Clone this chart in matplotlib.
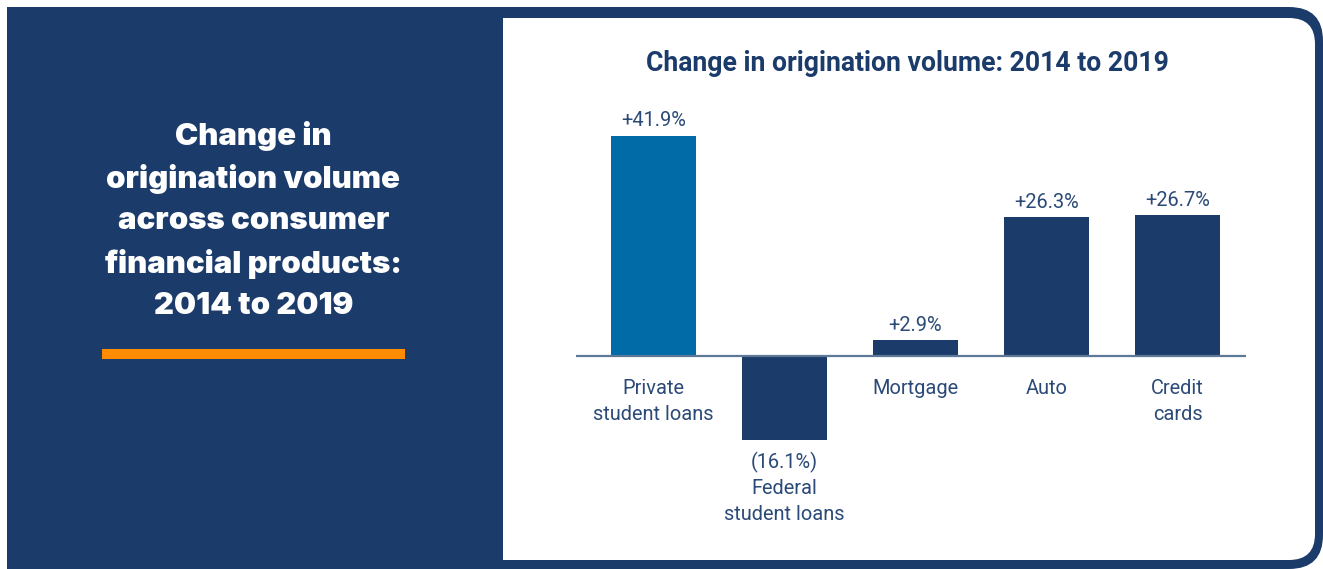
import matplotlib
matplotlib.use("Agg")
import matplotlib.pyplot as plt
from matplotlib.patches import FancyBboxPatch, Rectangle

# Data
categories = ["Private\nstudent loans", "Federal\nstudent loans", "Mortgage", "Auto", "Credit\ncards"]
changes = [41.9, -16.1, 2.9, 26.3, 26.7]
value_labels = ["+41.9%", "(16.1%)", "+2.9%", "+26.3%", "+26.7%"]
bar_colors = ["#006BA6", "#1B3B6B", "#1B3B6B", "#1B3B6B", "#1B3B6B"]

side_title = "Change in\norigination volume\nacross consumer\nfinancial products:\n2014 to 2019"
chart_title = "Change in origination volume: 2014 to 2019"

NAVY = "#1B3B6B"
TEXT = "#2B4A78"
ORANGE = "#FF8C00"

W, H = 1323, 569
fig = plt.figure(figsize=(W / 100, H / 100), dpi=100, facecolor="white")

# Background canvas in pixel units (y measured from the top)
bg = fig.add_axes([0, 0, 1, 1], zorder=0)
bg.set_xlim(0, W)
bg.set_ylim(H, 0)
bg.axis("off")

# Navy frame: rounded on the right, square on the left
bg.add_patch(FancyBboxPatch((7, 7), W - 7, H - 7, boxstyle="round,pad=0,rounding_size=34",
                            facecolor=NAVY, edgecolor="none"))
bg.add_patch(Rectangle((7, 7), 700, H - 7, facecolor=NAVY, edgecolor="none"))

# White chart panel
bg.add_patch(FancyBboxPatch((503, 18), 1315 - 503, 560 - 18, boxstyle="round,pad=0,rounding_size=26",
                            facecolor="white", edgecolor="none"))
bg.add_patch(Rectangle((503, 18), 400, 560 - 18, facecolor="white", edgecolor="none"))

# Side heading, one line at a time, and orange rule
side_lines = side_title.split("\n")
for k, line in enumerate(side_lines):
    bg.text(253.5, 133 + 42.5 * k, line, ha="center", va="center_baseline",
            color="white", fontsize=22.4, fontweight=900, family="Inter")
bg.add_patch(Rectangle((102, 349), 303, 10, facecolor=ORANGE, edgecolor="none"))

# Chart title
bg.text(907.5, 63, chart_title, ha="center", va="center", color=NAVY,
        fontsize=19.2, fontweight="bold", family="Roboto")

# Bar chart
ax = fig.add_axes([576 / W, (H - 540) / H, 670 / W, 440 / H], zorder=1)
ax.set_facecolor("none")
x = list(range(len(categories)))
ax.bar(x, changes, width=0.65, color=bar_colors, zorder=2)
ax.axhline(0, color="#5E7898", lw=1.6, zorder=3)
ax.set_xlim(-0.592, 4.523)
ax.set_ylim(-35.14, 48.67)
ax.axis("off")

lab_kw = dict(ha="center", color=TEXT, fontsize=14.4, family="Roboto", fontweight="normal")
for xi, v, lab, cat in zip(x, changes, value_labels, categories):
    if v >= 0:
        ax.annotate(lab, (xi, v), xytext=(0, 10.8), textcoords="offset points",
                    va="center", **lab_kw)
        ax.annotate(cat, (xi, 0), xytext=(0, -16.8), textcoords="offset points",
                    va="top", linespacing=1.46, **lab_kw)
    else:
        ax.annotate(lab, (xi, v), xytext=(0, -16.5), textcoords="offset points",
                    va="center", **lab_kw)
        ax.annotate(cat, (xi, v), xytext=(0, -28), textcoords="offset points",
                    va="top", linespacing=1.46, **lab_kw)

fig.savefig("out.png", dpi=100, facecolor="white")
